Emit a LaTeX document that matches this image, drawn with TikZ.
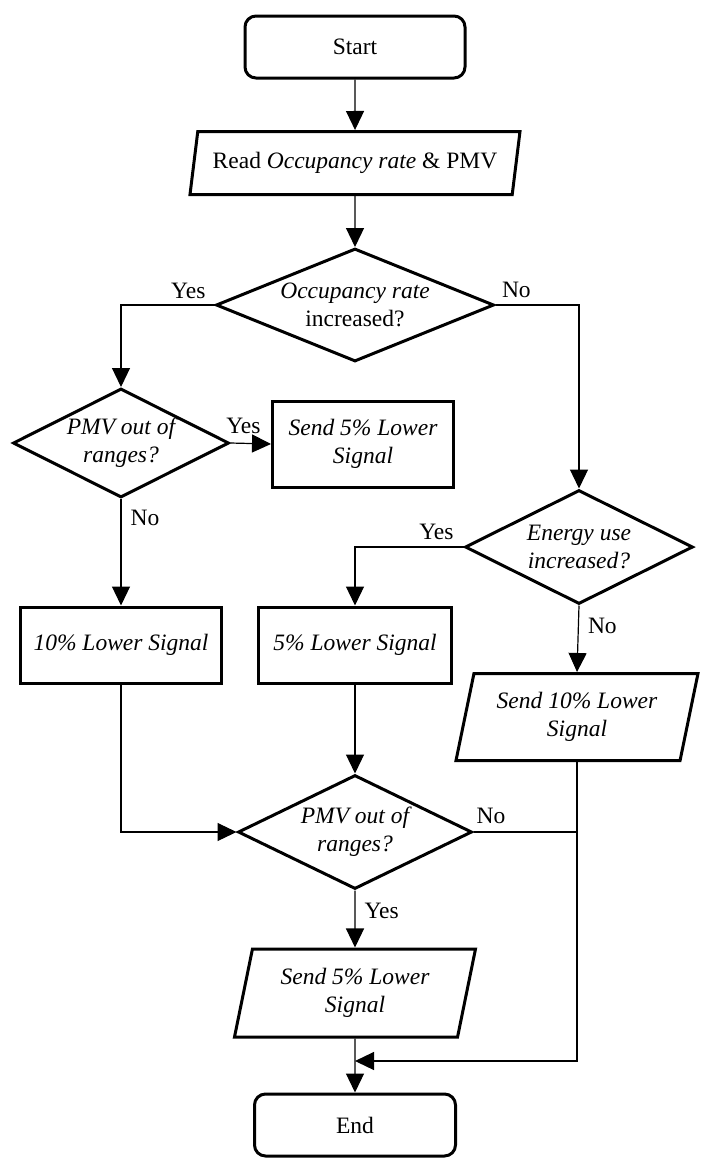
\documentclass[tikz,border=0pt]{standalone}
\usepackage{fontspec}
\setmainfont{Liberation Serif}
\usetikzlibrary{shapes.geometric,arrows.meta}
\newcommand\flowfont{\fontsize{23.5}{28}\selectfont}

\begin{document}
\begin{tikzpicture}
[x=1pt,y=-1pt,font=\flowfont,
  termdecorate/.style={shape=rectangle,rounded corners=11pt,draw,line width=3pt,
    inner sep=0pt,minimum height=62pt},%
  processdecorate/.style={shape=rectangle,draw,line width=3pt,inner sep=0pt,
    align=center,font=\flowfont\itshape},%
  iodecorate/.style={shape=trapezium,trapezium left angle=70,trapezium right angle=110,
    trapezium stretches body,draw,line width=3pt,inner sep=0pt,align=center,
    font=\flowfont\itshape},%
  decisiondecorate/.style={shape=diamond,draw,line width=3pt,inner sep=0pt,
    align=center,font=\flowfont\itshape},%
  linedecorate/.style={line width=1.2pt},%
  arrowdecorate/.style={linedecorate,-{Triangle[length=19pt,width=18pt]}},%
  labeldecorate/.style={font=\flowfont,inner sep=3pt}]
\useasboundingbox (0,0) rectangle (702,1168);
%% nodes
\node (start) at (355,47) [termdecorate,minimum width=220pt] {Start};
\node (read) at (355,163) [iodecorate,minimum width=330pt,minimum height=63pt]
  {{\upshape Read} Occupancy rate {\upshape\& PMV}};
\node (occ) at (355,305) [decisiondecorate,aspect=2.46,minimum width=278pt,minimum height=113pt]
  {Occupancy rate\\{\upshape increased?}};
\node (pmvA) at (121,443) [decisiondecorate,aspect=1.98,minimum width=216pt,minimum height=109pt]
  {PMV out of\\ranges?};
\node (send5a) at (363,444) [processdecorate,minimum width=181pt,minimum height=86pt]
  {Send 5\% Lower\\Signal};
\node (energy) at (579,547) [decisiondecorate,aspect=2,minimum width=228pt,minimum height=114pt]
  {Energy use\\increased?};
\node (low10) at (121,645) [processdecorate,minimum width=201pt,minimum height=76pt]
  {10\% Lower Signal};
\node (low5) at (355,645) [processdecorate,minimum width=193pt,minimum height=76pt]
  {5\% Lower Signal};
\node (send10) at (577,717) [iodecorate,minimum width=242pt,minimum height=87pt]
  {Send 10\% Lower\\Signal};
\node (pmvB) at (355,832) [decisiondecorate,aspect=2.05,minimum width=234pt,minimum height=114pt]
  {PMV out of\\ranges?};
\node (send5b) at (355,993) [iodecorate,minimum width=241pt,minimum height=88pt]
  {Send 5\% Lower\\Signal};
\node (end) at (355,1125) [termdecorate,minimum width=201pt] {End};
\coordinate (join) at (355,1061);
%% edges
\foreach \startnode/\endnode in {start/read, read/occ, low5/pmvB}
  \draw[arrowdecorate] (\startnode.south) -- (\endnode.north);
\draw[arrowdecorate] (occ.west) -| node[pos=0.14,above=3pt,labeldecorate] {Yes} (pmvA.north);
\draw[arrowdecorate] (occ.east) -| node[pos=0.125,above=4pt,labeldecorate] {No} (energy.north);
\draw[arrowdecorate] (pmvA.east) -- node[pos=0.32,above=6pt,labeldecorate] {Yes} (send5a.west);
\draw[arrowdecorate] (pmvA.south) -- node[pos=0.18,right=6pt,labeldecorate] {No} (low10.north);
\draw[arrowdecorate] (energy.west) -| node[pos=0.125,above=4pt,labeldecorate] {Yes} (low5.north);
\draw[arrowdecorate] (energy.south) -- node[pos=0.3,right=6pt,labeldecorate] {No} (send10.north);
\draw[arrowdecorate] (low10.south) |- (pmvB.west);
\draw[arrowdecorate] (pmvB.south) -- node[pos=0.35,right=6pt,labeldecorate] {Yes} (send5b.north);
\draw[linedecorate] (pmvB.east) -- node[pos=0.17,above=5pt,labeldecorate] {No} (pmvB.east -| send10.south);
\draw[arrowdecorate] (send10.south) |- (join);
\draw[arrowdecorate] (send5b.south) -- (end.north);
\end{tikzpicture}
\end{document}
